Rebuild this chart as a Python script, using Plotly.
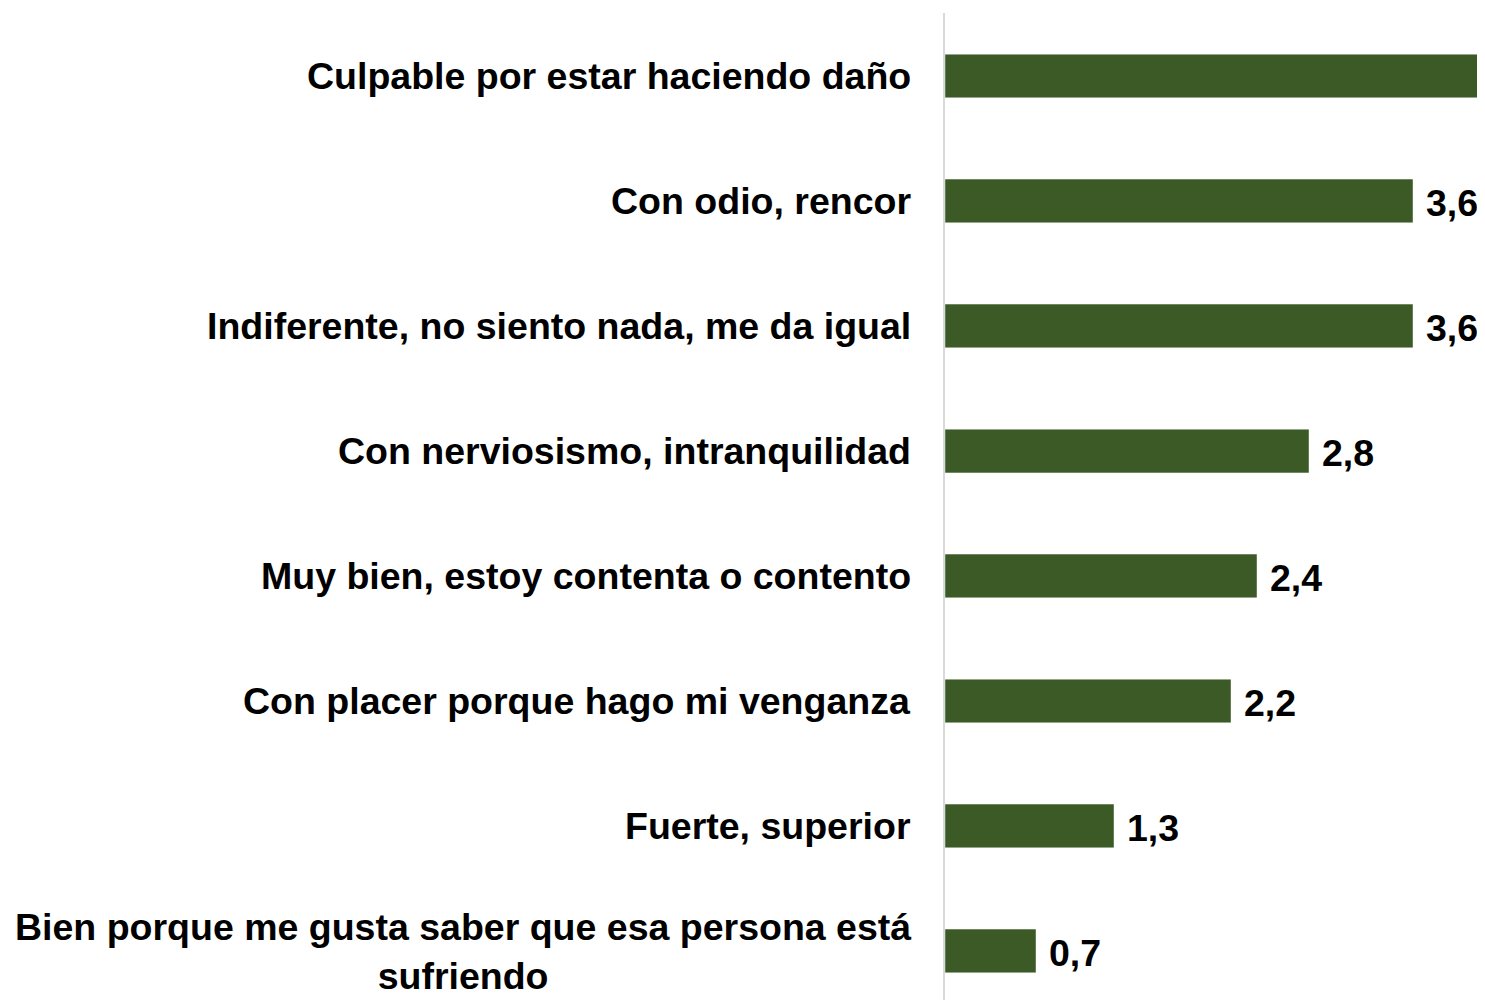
import plotly.graph_objects as go

categories = [
    "Culpable por estar haciendo daño",
    "Con odio, rencor",
    "Indiferente, no siento nada, me da igual",
    "Con nerviosismo, intranquilidad",
    "Muy bien, estoy contenta o contento",
    "Con placer porque hago mi venganza",
    "Fuerte, superior",
    "Bien porque me gusta saber que esa persona está<br>sufriendo",
]
values = [7.9, 3.6, 3.6, 2.8, 2.4, 2.2, 1.3, 0.7]
value_labels = ["7,9", "3,6", "3,6", "2,8", "2,4", "2,2", "1,3", "0,7"]

FONT = "Liberation Sans, Arial, sans-serif"
BAR = "#3b5a26"
FIG_W = 1500
MARGIN_L = 937
PX_PER_UNIT = 130
XMAX = (FIG_W - MARGIN_L) / PX_PER_UNIT
FS = 37.5

fig = go.Figure()
fig.add_trace(go.Bar(
    x=values,
    y=list(range(len(categories))),
    orientation="h",
    width=0.35,
    marker=dict(color=BAR, line=dict(color="rgba(255,255,255,0.45)", width=1)),
    cliponaxis=True,
    hoverinfo="skip",
))

for i, c in enumerate(categories):
    fig.add_annotation(
        x=0, xref="paper", y=i, yref="y",
        text=c, showarrow=False,
        xanchor="right", yanchor="middle", align="center",
        xshift=-32,
        font=dict(family=FONT, size=FS, color="black", weight=700),
    )

fig.update_layout(
    width=FIG_W, height=992,
    margin=dict(l=MARGIN_L, r=0, t=5, b=0),
    paper_bgcolor="white", plot_bgcolor="white",
    showlegend=False,
    xaxis=dict(range=[0, XMAX], visible=False, fixedrange=True),
    yaxis=dict(
        range=[7.392, -0.504],
        showticklabels=False, showgrid=False, zeroline=False,
        showline=True, linecolor="#d9d9d9", linewidth=2,
        ticks="",
    ),
    font=dict(family=FONT),
)

for i, (v, lab) in enumerate(zip(values, value_labels)):
    if v > 4.2:
        continue
    fig.add_annotation(
        x=v, xref="x", y=i, yref="y",
        text=lab, showarrow=False,
        xanchor="left", yanchor="middle",
        xshift=11, yshift=-2,
        font=dict(family=FONT, size=FS, color="black", weight=700),
    )

fig.write_html("out.html")
